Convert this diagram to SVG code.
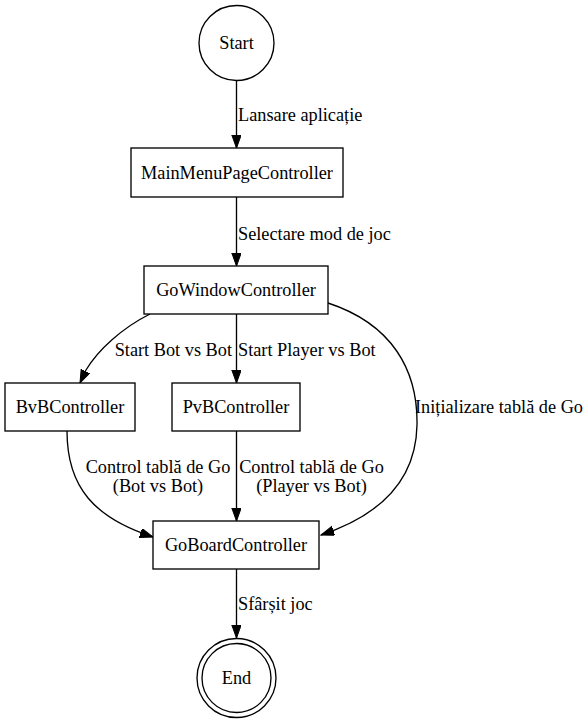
<svg xmlns="http://www.w3.org/2000/svg" width="587" height="723" viewBox="0 0 587 723">
<style>
text{font-family:"Liberation Serif","Times New Roman",serif;font-size:18.3px;fill:#000}
.n{fill:#fff;stroke:#000;stroke-width:1.33}
.e{fill:none;stroke:#000;stroke-width:1.33}
.m{text-anchor:middle}
.r{text-anchor:end}
</style>
<defs>
<marker id="ah" markerUnits="userSpaceOnUse" markerWidth="15" markerHeight="12" refX="13" refY="4.7" orient="auto" viewBox="0 0 15 12">
<path d="M0,0 L13,4.7 L0,9.4 Z" fill="#000" stroke="#000" stroke-width="1"/>
</marker>
</defs>
<rect width="587" height="723" fill="#fff"/>
<g id="connectors">
<path class="e" d="M236.5,81 L236.5,148" marker-end="url(#ah)"/>
<text x="238" y="121">Lansare aplicație</text>
<path class="e" d="M236.5,197 L236.5,266" marker-end="url(#ah)"/>
<text x="238" y="240">Selectare mod de joc</text>
<path class="e" d="M150,314 C122,328 98,350 86,370 L80,383" marker-end="url(#ah)"/>
<text class="r" x="232" y="356">Start Bot vs Bot</text>
<path class="e" d="M236.5,314 L236.5,383" marker-end="url(#ah)"/>
<text x="238" y="356">Start Player vs Bot</text>
<path class="e" d="M328,303 C392,324 418,370 417,425 C416,482 378,516 321,535" marker-end="url(#ah)"/>
<text x="415" y="413">Inițializare tablă de Go</text>
<path class="e" d="M67,431 C67,488 95,518 153,537" marker-end="url(#ah)"/>
<text class="m" x="158" y="473">Control tablă de Go</text>
<text class="m" x="158" y="492">(Bot vs Bot)</text>
<path class="e" d="M236.5,431 L236.5,521" marker-end="url(#ah)"/>
<text class="m" x="311.5" y="473">Control tablă de Go</text>
<text class="m" x="311.5" y="492">(Player vs Bot)</text>
<path class="e" d="M236.5,569 L236.5,638" marker-end="url(#ah)"/>
<text x="238" y="610">Sfârșit joc</text>
</g>
<g id="start">
<circle class="n" cx="236.5" cy="43" r="37.5"/>
<text class="m" x="236.5" y="49">Start</text>
</g>
<g id="mainmenu">
<rect class="n" x="131" y="148" width="212" height="49"/>
<text class="m" x="237" y="179">MainMenuPageController</text>
</g>
<g id="gowindow">
<rect class="n" x="144" y="266" width="184" height="48"/>
<text class="m" x="236" y="296">GoWindowController</text>
</g>
<g id="bvb">
<rect class="n" x="5" y="383" width="130" height="48"/>
<text class="m" x="70" y="413">BvBController</text>
</g>
<g id="pvb">
<rect class="n" x="172" y="383" width="128" height="48"/>
<text class="m" x="236" y="413">PvBController</text>
</g>
<g id="goboard">
<rect class="n" x="153" y="521" width="166" height="48"/>
<text class="m" x="236" y="551">GoBoardController</text>
</g>
<g id="end">
<circle class="n" cx="236.5" cy="678" r="39.5"/>
<circle class="n" cx="236.5" cy="678" r="34.5"/>
<text class="m" x="236.5" y="684">End</text>
</g>
</svg>
